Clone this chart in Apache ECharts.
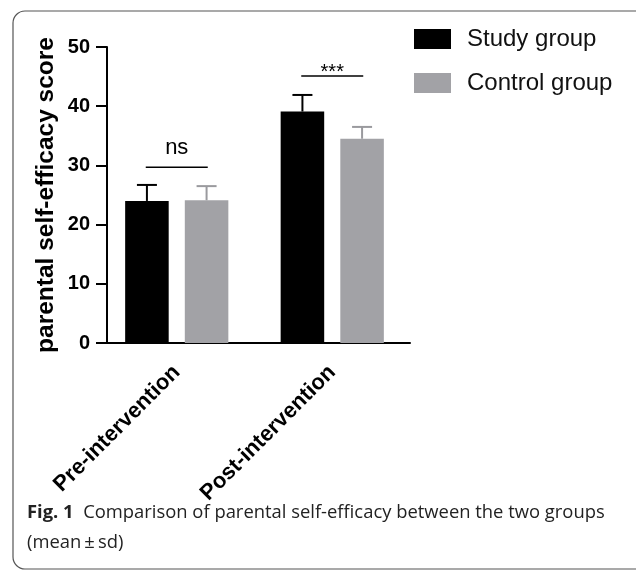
<!DOCTYPE html>
<html>
<head>
<meta charset="utf-8">
<script src="https://cdn.jsdelivr.net/npm/echarts@6/dist/echarts.min.js"></script>
<style>
  html, body { margin: 0; padding: 0; background: #fff; }
  #chart { width: 636px; height: 572px; }
</style>
</head>
<body>
<div id="chart"></div>
<script>
const categories = ['Pre-intervention', 'Post-intervention'];
const seriesNames = ['Study group', 'Control group'];
const studyMean = [24.0, 39.1];
const studySd = [2.7, 2.8];
const controlMean = [24.1, 34.5];
const controlSd = [2.4, 2.0];
const sigLabels = ['ns', '***'];
const sigLevels = [29.7, 45.1];
const yTicks = [0, 10, 20, 30, 40, 50];

const BAR_FRAC = 0.28;
const BAR_GAP = 0.37;
const colors = ['#000000', '#a2a2a6'];
const errColors = ['#000000', '#9a9a9e'];

const chart = echarts.init(document.getElementById('chart'));

// error bars drawn on top of each bar (upper whisker only)
function errorSeries(means, sds, idx) {
    return {
        type: 'custom',
        name: seriesNames[idx] + ' sd',
        silent: true,
        z: 1,
        data: means.map((m, i) => [i, m, m + sds[i]]),
        renderItem(params, api) {
            const band = api.size([1, 0])[0];
            const barW = band * BAR_FRAC;
            const off = barW * (1 + BAR_GAP) / 2 * (idx === 0 ? -1 : 1);
            const base = api.coord([api.value(0), api.value(1)]);
            const top = api.coord([api.value(0), api.value(2)]);
            const x = base[0] + off;
            const style = { stroke: errColors[idx], lineWidth: 2 };
            return {
                type: 'group',
                children: [
                    { type: 'line', shape: { x1: x, y1: base[1], x2: x, y2: top[1] }, style },
                    { type: 'line', shape: { x1: x - 10, y1: top[1], x2: x + 10, y2: top[1] }, style }
                ]
            };
        }
    };
}

const option = {
    animation: false,
    title: {
        left: 27,
        top: 498,
        padding: 0,
        text: '{b|Fig. 1}  Comparison of parental self-efficacy between the two groups\n(mean\u2009\u00b1\u2009sd)',
        textStyle: {
            fontFamily: 'Open Sans',
            fontSize: 18.4,
            fontWeight: 'normal',
            color: '#222',
            lineHeight: 30,
            rich: {
                b: { fontFamily: 'Open Sans', fontSize: 18.4, fontWeight: 'bold', color: '#222', lineHeight: 30 }
            }
        }
    },
    legend: {
        left: 414,
        top: 27,
        padding: 0,
        orient: 'vertical',
        itemWidth: 37,
        itemHeight: 20,
        itemGap: 20,
        icon: 'rect',
        data: seriesNames,
        textStyle: {
            fontFamily: 'Liberation Sans',
            fontSize: 24,
            lineHeight: 20,
            color: '#111',
            padding: [0, 0, 0, 11]
        }
    },
    graphic: [{
        type: 'rect',
        shape: { x: 13, y: 11, width: 700, height: 558, r: 12 },
        style: { fill: 'none', stroke: '#555', lineWidth: 1.2 },
        silent: true
    }],
    grid: { left: 99, right: 226, top: 47, bottom: 229 },
    xAxis: {
        type: 'category',
        data: categories,
        axisLine: { lineStyle: { color: '#000', width: 2 } },
        axisTick: { alignWithLabel: true, length: 11, lineStyle: { color: '#000', width: 2 } },
        axisLabel: {
            rotate: 45,
            margin: 26,
            fontFamily: 'Liberation Sans',
            fontWeight: 'bold',
            fontSize: 22,
            color: '#000'
        }
    },
    yAxis: {
        type: 'value',
        min: yTicks[0],
        max: yTicks[yTicks.length - 1],
        interval: 10,
        offset: -8,
        name: 'parental self-efficacy score',
        nameLocation: 'middle',
        nameGap: 48,
        nameTextStyle: {
            fontFamily: 'Liberation Sans',
            fontWeight: 'bold',
            fontSize: 24.5,
            color: '#000'
        },
        splitLine: { show: false },
        axisLine: { show: true, lineStyle: { color: '#000', width: 2 } },
        axisTick: { show: true, length: 11, lineStyle: { color: '#000', width: 2 } },
        axisLabel: {
            margin: 17,
            fontFamily: 'Liberation Sans',
            fontWeight: 'bold',
            fontSize: 20,
            color: '#000'
        }
    },
    series: [
        {
            type: 'bar',
            name: seriesNames[0],
            data: studyMean,
            barWidth: (BAR_FRAC * 100) + '%',
            barGap: (BAR_GAP * 100) + '%',
            itemStyle: { color: colors[0] },
            z: 2
        },
        {
            type: 'bar',
            name: seriesNames[1],
            data: controlMean,
            barWidth: (BAR_FRAC * 100) + '%',
            barGap: (BAR_GAP * 100) + '%',
            itemStyle: { color: colors[1] },
            z: 2
        },
        errorSeries(studyMean, studySd, 0),
        errorSeries(controlMean, controlSd, 1),
        {
            type: 'custom',
            name: 'significance',
            silent: true,
            data: sigLevels.map((v, i) => [i, v]),
            renderItem(params, api) {
                const p = api.coord([api.value(0), api.value(1)]);
                const stars = params.dataIndex === 1;
                return {
                    type: 'group',
                    children: [
                        { type: 'line', shape: { x1: p[0] - 31, y1: p[1], x2: p[0] + 31, y2: p[1] },
                          style: { stroke: '#000', lineWidth: 1.5 } },
                        { type: 'text', x: p[0], y: stars ? p[1] + 6 : p[1] - 8,
                          style: { text: sigLabels[params.dataIndex], align: 'center', verticalAlign: 'bottom',
                                   fontFamily: 'Liberation Sans', fontSize: stars ? 20 : 22, fill: '#000' } }
                    ]
                };
            }
        }
    ]
};

chart.setOption(option);
</script>
</body>
</html>
